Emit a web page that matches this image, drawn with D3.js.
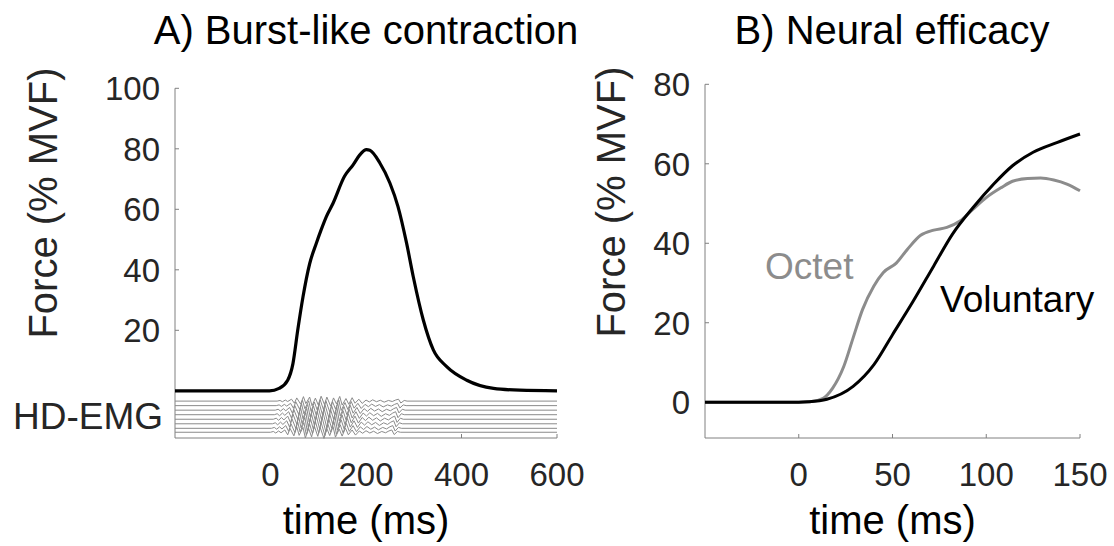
<!DOCTYPE html>
<html>
<head>
<meta charset="utf-8">
<script src="https://cdn.jsdelivr.net/npm/d3@7"></script>
<style>
  body { margin: 0; background: #fff; }
  text { font-family: "Liberation Sans", Arial, sans-serif; }
</style>
</head>
<body>
<div id="fig"></div>
<script>
// Panel A: burst-like contraction force (% MVF) vs time (ms)
const forceTime   = [-200, -2, 18, 36, 47, 57, 68, 82, 96, 106, 117, 131, 155, 173, 187, 201, 208, 229, 250, 267, 285, 299, 320, 341, 369, 411, 467, 522, 600];
const forceValues = [0, 0, 0.8, 3.5, 9, 20, 31, 42, 48.8, 53.2, 57.6, 62, 70.9, 74.7, 78, 79.7, 79.5, 75.3, 68.7, 60.9, 48.8, 37.7, 23.4, 13.5, 8, 3.5, 0.8, 0.2, 0];

// HD-EMG burst: one read-off waveform, shifted and scaled per channel
const emgTime = [-200, 0, 6, 11, 17, 22, 30, 36, 41, 49, 55, 60, 68, 73, 80, 86, 92, 99, 104, 112, 118, 124, 131, 136, 144, 150, 157, 163, 171, 178, 186, 193, 200, 208, 216, 224, 233, 241, 248, 254, 259, 266, 272, 600];
const emgWave = [0, 0, 0.3, -0.3, 0.5, -0.2, 0.9, -1.0, 1.5, -1.4, 2.1, -1.2, 1.9, -2.2, 1.4, -1.8, 2.3, -1.6, 1.9, -2.4, 1.5, -1.3, 2.2, -1.9, 1.2, -1.5, 1.6, -1.0, 0.9, -1.1, 0.5, -0.4, 0.6, -0.3, 0.4, -0.5, 0.3, -0.2, 0.5, 0.9, -0.9, 0.3, 0, 0];
const emgOffset = [-3.4, -4.9, -6.4, -7.9, -9.4, -10.9, -12.4, -13.7];
const emgLag    = [14, 12, 10, 8, 6, 4, 2, 0];
const emgGain   = [0.7, 0.85, 1, 1.1, 1.15, 1.1, 1, 0.85];

// Panel B: neural efficacy
const voluntaryTime  = [-50, 0, 5, 15, 29, 40, 50, 61, 72, 82, 93, 104, 114, 125, 138, 150];
const voluntaryForce = [0, 0, 0.1, 0.75, 4, 9.4, 17, 25.4, 34.3, 42.3, 49, 54.9, 59.5, 62.9, 65.4, 67.5];
const octetTime  = [-50, 0, 6, 13, 18, 24, 29, 34, 40, 45, 52, 58, 65, 72, 79, 86, 93, 100, 108, 114, 122, 129, 136, 143, 150];
const octetForce = [0, 0, 0.1, 1, 3.5, 9, 16.2, 23.3, 29.2, 32.6, 35, 38.5, 42, 43.3, 44, 45.6, 48.6, 51.5, 54, 55.6, 56.3, 56.4, 55.9, 54.9, 53.2];

const ticksAx = [0, 200, 400, 600];
const tickMarksAx = [400, 600];
const ticksAy = [20, 40, 60, 80, 100];
const ticksBx = [0, 50, 100, 150];
const ticksBy = [0, 20, 40, 60, 80];

const W = 1114, H = 546;
const axisColor = "#808080", tickText = "#262626", octetColor = "#8c8c8c";

const svg = d3.select("#fig")
    .append("svg")
        .attr("width", W)
        .attr("height", H);

const xA = d3.scaleLinear().domain([-200, 600]).range([175, 557]);
const yA = d3.scaleLinear().domain([-15.6, 100]).range([438, 88.3]);
const xB = d3.scaleLinear().domain([-50, 150]).range([705, 1080]);
const yB = d3.scaleLinear().domain([-9, 80]).range([438, 84.3]);

function drawAxes(x, y, xTicks, xMarks, yTicks) {
    const g = svg.append("g");
    const [x0, x1] = x.range();
    const [y0, y1] = y.range();

    g.append("line").attr("x1", x0).attr("x2", x0).attr("y1", y0).attr("y2", y1)
        .attr("stroke", axisColor).attr("stroke-width", 1);
    g.append("line").attr("x1", x0).attr("x2", x1).attr("y1", y0).attr("y2", y0)
        .attr("stroke", axisColor).attr("stroke-width", 1);

    g.selectAll(".xtick")
        .data(xMarks)
        .join("line")
            .attr("x1", d => x(d)).attr("x2", d => x(d))
            .attr("y1", y0).attr("y2", y0 - 4)
            .attr("stroke", axisColor);

    g.selectAll(".ytick")
        .data(yTicks)
        .join("line")
            .attr("x1", x0).attr("x2", x0 + 4)
            .attr("y1", d => y(d)).attr("y2", d => y(d))
            .attr("stroke", axisColor);

    g.selectAll(".xlab")
        .data(xTicks)
        .join("text")
            .attr("x", d => x(d))
            .attr("y", 486)
            .style("text-anchor", "middle")
            .style("font-size", "33px")
            .style("fill", tickText)
            .text(d => d);

    g.selectAll(".ylab")
        .data(yTicks)
        .join("text")
            .attr("x", x0 - 15)
            .attr("y", d => y(d) + 12)
            .style("text-anchor", "end")
            .style("font-size", "33px")
            .style("fill", tickText)
            .text(d => d);

    g.append("text")
        .attr("x", (x0 + x1) / 2)
        .attr("y", 534)
        .style("text-anchor", "middle")
        .style("font-size", "40px")
        .text("time (ms)");
    return g;
}

// ---- Panel A
drawAxes(xA, yA, ticksAx, tickMarksAx, ticksAy);

const lineA = d3.line()
    .x(d => xA(d[0]))
    .y(d => yA(d[1]))
    .curve(d3.curveMonotoneX);

emgOffset.forEach((off, i) => {
    const last = emgTime.length - 1;
    const pts = emgTime.map((t, j) => [t + (j > 0 && j < last ? emgLag[i] : 0), off + emgGain[i] * emgWave[j]]);
    svg.append("path")
        .attr("d", d3.line().x(d => xA(d[0])).y(d => yA(d[1]))(pts))
        .attr("fill", "none")
        .attr("stroke", "#8a8a8a")
        .attr("stroke-width", 1);
});

svg.append("path")
    .attr("d", lineA(forceTime.map((t, i) => [t, forceValues[i]])))
    .attr("fill", "none")
    .attr("stroke", "#000")
    .attr("stroke-width", 3.2);

svg.append("text")
    .attr("x", 163).attr("y", 429)
    .style("text-anchor", "end")
    .style("font-size", "37px")
    .style("fill", tickText)
    .text("HD-EMG");

svg.append("text")
    .attr("transform", "translate(57,203) rotate(-90)")
    .style("text-anchor", "middle")
    .style("font-size", "40px")
    .style("fill", tickText)
    .text("Force (% MVF)");

svg.append("text")
    .attr("x", 366).attr("y", 44)
    .style("text-anchor", "middle")
    .style("font-size", "40px")
    .text("A) Burst-like contraction");

// ---- Panel B
drawAxes(xB, yB, ticksBx, ticksBx, ticksBy);

const lineB = d3.line()
    .x(d => xB(d[0]))
    .y(d => yB(d[1]))
    .curve(d3.curveMonotoneX);

svg.append("path")
    .attr("d", lineB(octetTime.map((t, i) => [t, octetForce[i]])))
    .attr("fill", "none")
    .attr("stroke", octetColor)
    .attr("stroke-width", 3);

svg.append("path")
    .attr("d", lineB(voluntaryTime.map((t, i) => [t, voluntaryForce[i]])))
    .attr("fill", "none")
    .attr("stroke", "#000")
    .attr("stroke-width", 3);

svg.append("text")
    .attr("x", 765).attr("y", 279)
    .style("font-size", "37px")
    .style("fill", octetColor)
    .text("Octet");

svg.append("text")
    .attr("x", 940).attr("y", 312)
    .style("font-size", "37px")
    .style("fill", "#000")
    .text("Voluntary");

svg.append("text")
    .attr("transform", "translate(625,202) rotate(-90)")
    .style("text-anchor", "middle")
    .style("font-size", "40px")
    .style("fill", tickText)
    .text("Force (% MVF)");

svg.append("text")
    .attr("x", 892).attr("y", 44)
    .style("text-anchor", "middle")
    .style("font-size", "40px")
    .text("B) Neural efficacy");
</script>
</body>
</html>
